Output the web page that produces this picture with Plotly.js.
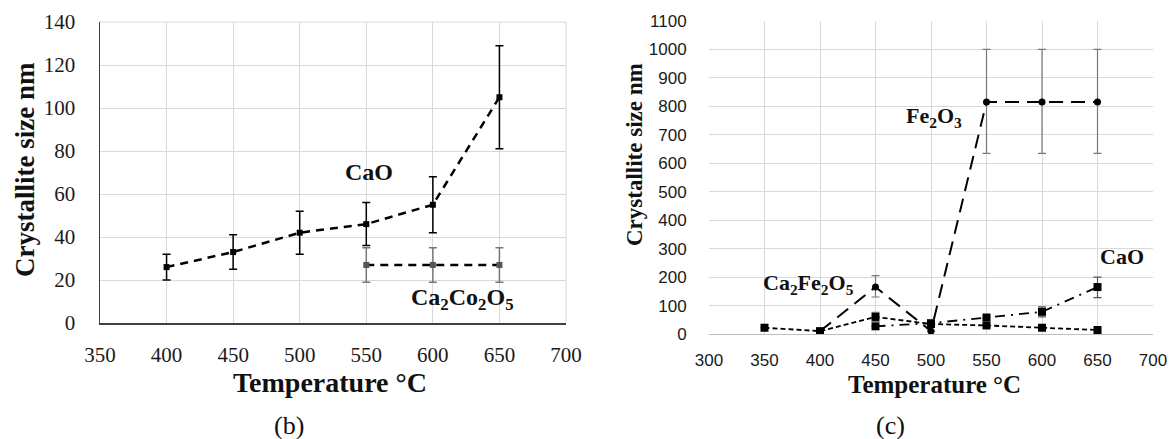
<!DOCTYPE html>
<html>
<head>
<meta charset="utf-8">
<script src="https://cdn.plot.ly/plotly-3.0.1.min.js"></script>
<style>html,body{margin:0;padding:0;background:#fff;}#chart{width:1171px;height:439px;}</style>
</head>
<body>
<div id="chart"></div>
<script>
// ---- Panel (b) data ----
const tempB = [400, 450, 500, 550, 600, 650];
const caoB = [26, 33, 42, 46, 55, 105];
const caoBErr = [6, 8, 10, 10, 13, 24];
const tempCo = [550, 600, 650];
const ca2co2o5 = [27, 27, 27];
const ca2co2o5Err = [8, 8, 8];

// ---- Panel (c) data ----
const tempFe = [400, 450, 500, 550, 600, 650];
const fe2o3 = [10, 165, 10, 815, 815, 815];
const fe2o3ErrPlus = [0, 40, 0, 185, 185, 185];
const fe2o3ErrMinus = [0, 35, 0, 180, 180, 180];
const tempSq = [350, 400, 450, 500, 550, 600, 650];
const ca2fe2o5 = [22, 10, 60, 35, 30, 22, 14];
const ca2fe2o5Err = [0, 0, 16, 0, 0, 0, 0];
const tempCaoC = [450, 500, 550, 600, 650];
const caoC = [27, 38, 58, 78, 165];
const caoCErrPlus = [0, 0, 0, 17, 35];
const caoCErrMinus = [0, 0, 0, 18, 37];

const ticksB_x = [350, 400, 450, 500, 550, 600, 650, 700];
const ticksB_y = [0, 20, 40, 60, 80, 100, 120, 140];
const ticksC_x = [300, 350, 400, 450, 500, 550, 600, 650, 700];
const ticksC_y = [0, 100, 200, 300, 400, 500, 600, 700, 800, 900, 1000, 1100];

const serif = "Liberation Serif";
const sans = "Liberation Sans";

const traces = [
  {
    x: tempB, y: caoB, xaxis: 'x', yaxis: 'y', mode: 'lines+markers', name: 'CaO',
    line: {color: '#000', width: 2.5, dash: '8px,6px'},
    marker: {symbol: 'square', size: 6, color: '#000'},
    error_y: {type: 'data', array: caoBErr, visible: true, color: '#000', thickness: 1.5, width: 4}
  },
  {
    x: tempCo, y: ca2co2o5, xaxis: 'x', yaxis: 'y', mode: 'lines+markers', name: 'Ca2Co2O5',
    line: {color: '#000', width: 2.5, dash: '8px,6px'},
    marker: {symbol: 'square', size: 6, color: '#555'},
    error_y: {type: 'data', array: ca2co2o5Err, visible: true, color: '#777', thickness: 1.5, width: 4}
  },
  {
    x: tempFe, y: fe2o3, xaxis: 'x2', yaxis: 'y2', mode: 'lines+markers', name: 'Fe2O3',
    line: {color: '#000', width: 2, dash: '14px,8px'},
    marker: {symbol: 'circle', size: 7, color: '#000'},
    error_y: {type: 'data', array: fe2o3ErrPlus, arrayminus: fe2o3ErrMinus, visible: true, color: '#777', thickness: 1.2, width: 4}
  },
  {
    x: tempSq, y: ca2fe2o5, xaxis: 'x2', yaxis: 'y2', mode: 'lines+markers', name: 'Ca2Fe2O5',
    line: {color: '#000', width: 1.8, dash: '5px,3px'},
    marker: {symbol: 'square', size: 8, color: '#000'},
    error_y: {type: 'data', array: ca2fe2o5Err, visible: true, color: '#777', thickness: 1.2, width: 4}
  },
  {
    x: tempCaoC, y: caoC, xaxis: 'x2', yaxis: 'y2', mode: 'lines+markers', name: 'CaO (c)',
    line: {color: '#000', width: 1.8, dash: '10px,6px,2px,6px'},
    marker: {symbol: 'square', size: 8, color: '#000'},
    error_y: {type: 'data', array: caoCErrPlus, arrayminus: caoCErrMinus, visible: true, color: '#555', thickness: 1.2, width: 4}
  }
];

const grid = '#d9d9d9';
const layout = {
  width: 1171, height: 439,
  margin: {l: 0, r: 0, t: 0, b: 0},
  paper_bgcolor: '#fff', plot_bgcolor: '#fff',
  showlegend: false,
  xaxis: {
    domain: [100/1171, 566/1171], anchor: 'y', range: [350, 700],
    tickvals: ticksB_x,
    showgrid: true, gridcolor: grid, zeroline: false,
    showline: true, linecolor: '#404040', linewidth: 1.5,
    ticks: 'outside', ticklen: 12, tickcolor: '#ffffff',
    tickfont: {family: serif, size: 21, color: '#1a1a1a'}
  },
  yaxis: {
    domain: [(439-323)/439, (439-22)/439], anchor: 'x', range: [0, 140],
    tickvals: ticksB_y,
    showgrid: true, gridcolor: grid, zeroline: false,
    showline: true, linecolor: '#404040', linewidth: 1.5,
    ticks: 'outside', ticklen: 19, tickcolor: '#ffffff',
    tickfont: {family: serif, size: 21, color: '#1a1a1a'}
  },
  xaxis2: {
    domain: [709/1171, 1153/1171], anchor: 'y2', range: [300, 700],
    tickvals: ticksC_x,
    showgrid: true, gridcolor: grid, zeroline: false,
    showline: true, linecolor: '#bfbfbf', linewidth: 1,
    ticks: 'outside', ticklen: 11, tickcolor: '#ffffff',
    tickfont: {family: sans, size: 17, color: '#1a1a1a'}
  },
  yaxis2: {
    domain: [(439-334)/439, (439-21)/439], anchor: 'x2', range: [0, 1100],
    tickvals: ticksC_y,
    showgrid: true, gridcolor: grid, zeroline: false,
    showline: false,
    ticks: 'outside', ticklen: 18, tickcolor: '#ffffff',
    tickfont: {family: sans, size: 17, color: '#1a1a1a'}
  },
  shapes: [
    {type: 'line', xref: 'paper', yref: 'paper', x0: 100/1171, x1: 566/1171, y0: (439-22)/439, y1: (439-22)/439, line: {color: grid, width: 1}},
    {type: 'line', xref: 'paper', yref: 'paper', x0: 566/1171, x1: 566/1171, y0: (439-323)/439, y1: (439-22)/439, line: {color: grid, width: 1}}
  ],
  annotations: [
    {text: '<b>Crystallite size nm</b>', xref: 'paper', yref: 'paper', x: 25/1171, y: (439-170)/439, textangle: -90,
     showarrow: false, font: {family: serif, size: 27, color: '#111'}, xanchor: 'center', yanchor: 'middle'},
    {text: '<b>Temperature °C</b>', xref: 'paper', yref: 'paper', x: 330/1171, y: (439-382)/439,
     showarrow: false, font: {family: serif, size: 28, color: '#111'}, xanchor: 'center', yanchor: 'middle'},
    {text: '(b)', xref: 'paper', yref: 'paper', x: 289/1171, y: (439-425)/439,
     showarrow: false, font: {family: serif, size: 26, color: '#111'}, xanchor: 'center', yanchor: 'middle'},
    {text: '<b>CaO</b>', xref: 'x', yref: 'y', x: 552, y: 70, showarrow: false,
     font: {family: serif, size: 24, color: '#111'}},
    {text: '<b>Ca<sub>2</sub>Co<sub>2</sub>O<sub>5</sub></b>', xref: 'x', yref: 'y', x: 622, y: 11, showarrow: false,
     font: {family: serif, size: 24, color: '#111'}},
    {text: '<b>Crystallite size nm</b>', xref: 'paper', yref: 'paper', x: 634/1171, y: (439-155)/439, textangle: -90,
     showarrow: false, font: {family: serif, size: 23, color: '#111'}, xanchor: 'center', yanchor: 'middle'},
    {text: '<b>Temperature °C</b>', xref: 'paper', yref: 'paper', x: 934/1171, y: (439-384)/439,
     showarrow: false, font: {family: serif, size: 25, color: '#111'}, xanchor: 'center', yanchor: 'middle'},
    {text: '(c)', xref: 'paper', yref: 'paper', x: 890/1171, y: (439-425)/439,
     showarrow: false, font: {family: serif, size: 26, color: '#111'}, xanchor: 'center', yanchor: 'middle'},
    {text: '<b>Fe<sub>2</sub>O<sub>3</sub></b>', xref: 'x2', yref: 'y2', x: 503, y: 763, showarrow: false,
     font: {family: serif, size: 22, color: '#111'}},
    {text: '<b>Ca<sub>2</sub>Fe<sub>2</sub>O<sub>5</sub></b>', xref: 'x2', yref: 'y2', x: 390, y: 176, showarrow: false,
     font: {family: serif, size: 22, color: '#111'}},
    {text: '<b>CaO</b>', xref: 'x2', yref: 'y2', x: 672, y: 274, showarrow: false,
     font: {family: serif, size: 22, color: '#111'}}
  ]
};

Plotly.newPlot('chart', traces, layout, {displayModeBar: false, staticPlot: true});
</script>
</body>
</html>
